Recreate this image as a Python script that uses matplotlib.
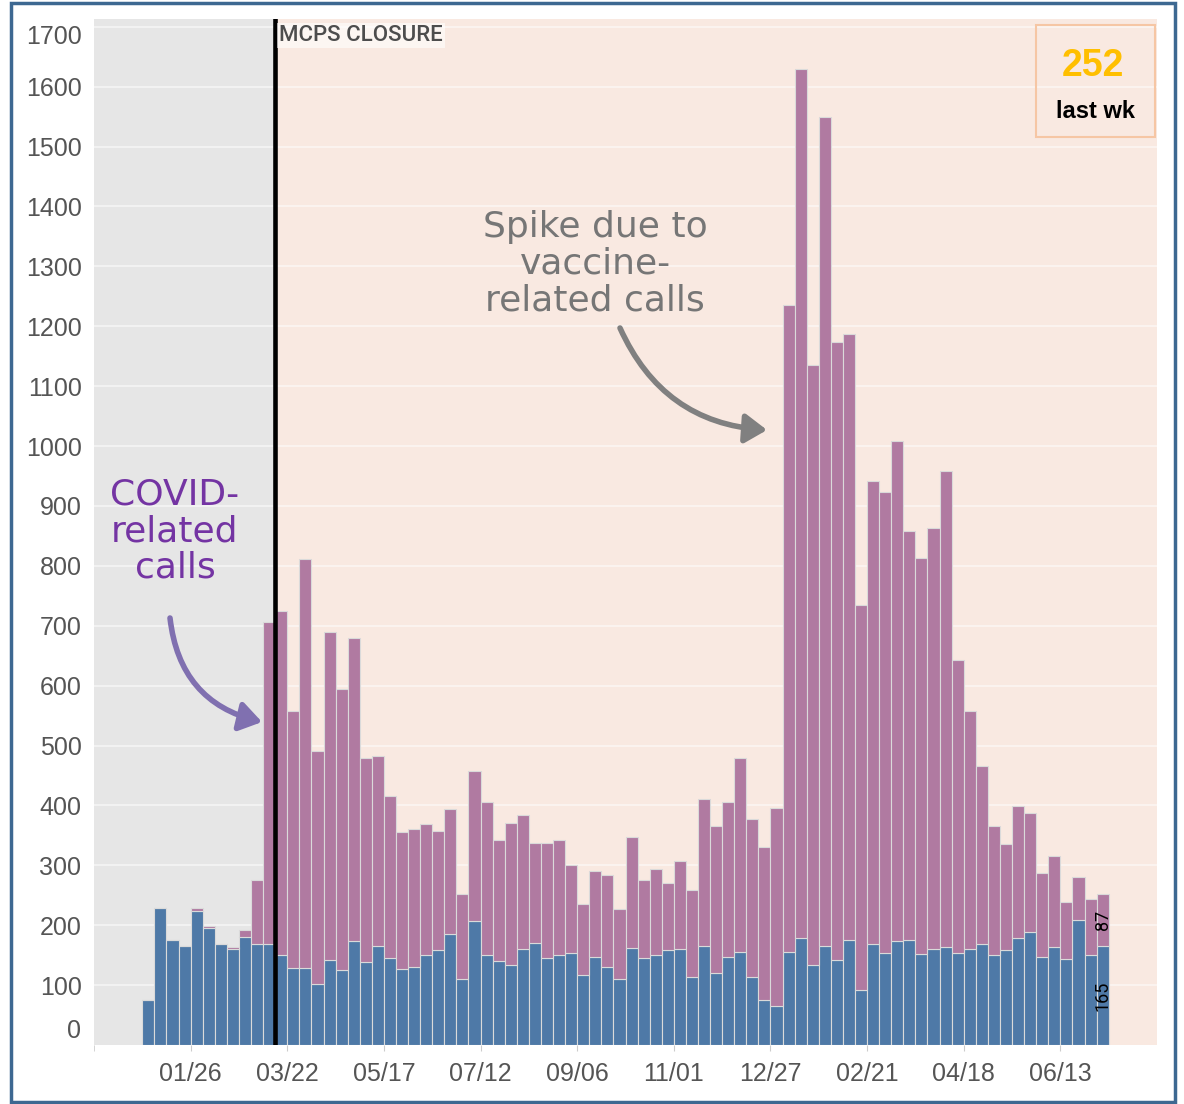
import matplotlib
matplotlib.use('Agg')
import matplotlib.pyplot as plt
import matplotlib.dates as mdates
import matplotlib.patches as patches
from matplotlib.transforms import ScaledTranslation
import pandas as pd

# ---------------- data ----------------
first_week = '2019-12-29'
other_calls = [75, 229, 176, 166, 223, 195, 168, 160, 180, 168,
               168, 151, 129, 129, 102, 142, 125, 174, 139, 166,
               145, 127, 130, 151, 158, 185, 110, 207, 150, 141,
               133, 161, 171, 145, 151, 154, 117, 147, 130, 111,
               162, 145, 151, 158, 160, 114, 166, 120, 147, 156,
               114, 75, 65, 156, 178, 133, 166, 142, 176, 92,
               168, 154, 174, 176, 152, 160, 164, 154, 160, 168,
               150, 158, 178, 188, 147, 164, 143, 209, 151, 165]
covid_calls = [0, 0, 0, 0, 6, 4, 0, 4, 12, 108,
               538, 574, 428, 682, 389, 547, 469, 505, 340, 317,
               270, 228, 231, 218, 199, 209, 142, 251, 255, 202,
               237, 223, 167, 193, 192, 146, 119, 144, 154, 116,
               185, 130, 143, 113, 148, 144, 245, 245, 258, 323,
               264, 255, 330, 1080, 1452, 1002, 1384, 1032, 1011, 643,
               774, 770, 834, 682, 661, 704, 795, 488, 397, 298,
               215, 177, 221, 200, 140, 152, 95, 72, 93, 87]
tick_dates = ['2020-01-26', '2020-03-22', '2020-05-17', '2020-07-12', '2020-09-06',
              '2020-11-01', '2020-12-27', '2021-02-21', '2021-04-18', '2021-06-13']
tick_labels = ['01/26', '03/22', '05/17', '07/12', '09/06',
               '11/01', '12/27', '02/21', '04/18', '06/13']
y_ticks = list(range(0, 1800, 100))
closure_date = '2020-03-15'
closure_label = 'MCPS CLOSURE'
last_week_value = '252'
last_week_label = 'last wk'
x_start, x_end = '2019-12-01', '2021-08-08'

week_start = pd.date_range(first_week, periods=len(other_calls), freq='7D')

# ---------------- figure ----------------
W, H = 1184, 1104
fig = plt.figure(figsize=(W / 100, H / 100), dpi=100)
fig.patch.set_facecolor('white')
L, R, T, B = 94, 1157, 19, 1045
ax = fig.add_axes([L / W, 1 - B / H, (R - L) / W, (B - T) / H])

x = mdates.date2num(week_start)
xmin = mdates.date2num(pd.Timestamp(x_start))
xmax = mdates.date2num(pd.Timestamp(x_end))
cl = mdates.date2num(pd.Timestamp(closure_date))

BLUE = '#4e79a7'
PURPLE = '#b07aa1'
EDGE = '#dadada'
ax.bar(x, other_calls, width=7, align='edge', color=BLUE, edgecolor=EDGE,
       linewidth=0.8, zorder=3)
ax.bar(x, covid_calls, bottom=other_calls, width=7, align='edge', color=PURPLE,
       edgecolor=EDGE, linewidth=0.8, zorder=3)

ax.set_xlim(xmin, xmax)
ax.set_ylim(0, 1713)
ax.axvspan(xmin, cl, color='#e6e6e6', zorder=0, lw=0)
ax.axvspan(cl, xmax, color='#f9e9e1', zorder=0, lw=0)
for yv in y_ticks[1:]:
    ax.axhline(yv, color='white', alpha=0.55, lw=1.3, zorder=1)
ax.axvline(cl, color='black', lw=3.3, zorder=5)

for s in ax.spines.values():
    s.set_visible(False)

ax.set_yticks(y_ticks)
ax.set_yticklabels([str(v) for v in y_ticks])
ax.tick_params(axis='y', length=0, pad=9, labelsize=18, labelcolor='#555555')
ax.set_xticks(mdates.date2num(pd.to_datetime(tick_dates)))
ax.set_xticklabels(tick_labels)
ax.set_xticks([xmin], minor=True)
ax.tick_params(axis='x', which='both', length=4, color='#cccccc', pad=8,
               labelsize=18, labelcolor='#555555')
for lab in ax.get_xticklabels() + ax.get_yticklabels():
    lab.set_fontfamily(['Liberation Sans', 'DejaVu Sans'])

ylabs = ax.get_yticklabels()
ylabs[-1].set_transform(ylabs[-1].get_transform() +
                        ScaledTranslation(0, -0.08, fig.dpi_scale_trans))
ylabs[0].set_transform(ylabs[0].get_transform() +
                       ScaledTranslation(0, 0.17, fig.dpi_scale_trans))

# closure label
ax.annotate(closure_label, xy=(cl, 1), xycoords=('data', 'axes fraction'),
            xytext=(3, -4.5), textcoords='offset points', ha='left', va='top',
            fontsize=16, color='#4d4d4d', fontweight='medium',
            family=['Roboto', 'Liberation Sans', 'DejaVu Sans'],
            bbox=dict(facecolor='white', alpha=0.6, edgecolor='none', pad=1.5),
            zorder=6)

# last week box
def fx(px):
    return (px - L) / (R - L)

def fy(py):
    return (B - py) / (B - T)

ax.add_patch(patches.Rectangle((fx(1036), fy(137)), fx(1155) - fx(1036), fy(25) - fy(137),
                               transform=ax.transAxes, fill=False,
                               edgecolor='#f6c6a4', lw=1.5, zorder=6))
ax.text(fx(1093), fy(66), last_week_value, transform=ax.transAxes, ha='center',
        va='center', fontsize=27, fontweight='bold', color='#ffbf00',
        family=['Liberation Sans', 'DejaVu Sans'], zorder=7)
ax.text(fx(1095), fy(111), last_week_label, transform=ax.transAxes, ha='center',
        va='center', fontsize=17, fontweight='bold', color='black',
        family=['Liberation Sans', 'DejaVu Sans'], zorder=7)

# last bar value labels
xl = x[-1] + 3.5
ax.text(xl, other_calls[-1] / 2, str(other_calls[-1]), rotation=90, ha='center',
        va='center', fontsize=13, color='black',
        family=['Roboto', 'Liberation Sans', 'DejaVu Sans'], zorder=7)
ax.text(xl, other_calls[-1] + covid_calls[-1] / 2, str(covid_calls[-1]), rotation=90,
        ha='center', va='center', fontsize=13, color='black',
        family=['Roboto', 'Liberation Sans', 'DejaVu Sans'], zorder=7)

# hand-drawn style annotations
ax.text(fx(175), fy(531), 'COVID-\nrelated\ncalls', transform=ax.transAxes,
        ha='center', va='center', fontsize=26, color='#7434a3', linespacing=1.1,
        family=['DejaVu Sans'], zorder=7)
ax.annotate('', xy=(fx(262), fy(722)), xytext=(fx(170), fy(618)),
            xycoords='axes fraction', textcoords='axes fraction',
            arrowprops=dict(arrowstyle='-|>,head_length=0.6,head_width=0.4',
                            color='#8070b0', lw=4, shrinkA=0, shrinkB=0,
                            mutation_scale=22, connectionstyle='arc3,rad=0.35'),
            zorder=7)

ax.text(fx(595), fy(264), 'Spike due to\nvaccine-\nrelated calls', transform=ax.transAxes,
        ha='center', va='center', fontsize=26, color='#767676', linespacing=1.1,
        family=['DejaVu Sans'], zorder=7)
ax.annotate('', xy=(fx(767), fy(430)), xytext=(fx(620), fy(328)),
            xycoords='axes fraction', textcoords='axes fraction',
            arrowprops=dict(arrowstyle='-|>,head_length=0.6,head_width=0.4',
                            color='#808080', lw=4, shrinkA=0, shrinkB=0,
                            mutation_scale=22, connectionstyle='arc3,rad=0.3'),
            zorder=7)

# outer frame
fig.patches.append(patches.Rectangle((11 / W, 2 / H), (1175 - 11) / W, (1101 - 2) / H,
                                     transform=fig.transFigure, fill=False,
                                     edgecolor='#3d6891', lw=2.5))

fig.savefig('out.png', dpi=100, facecolor='white')
